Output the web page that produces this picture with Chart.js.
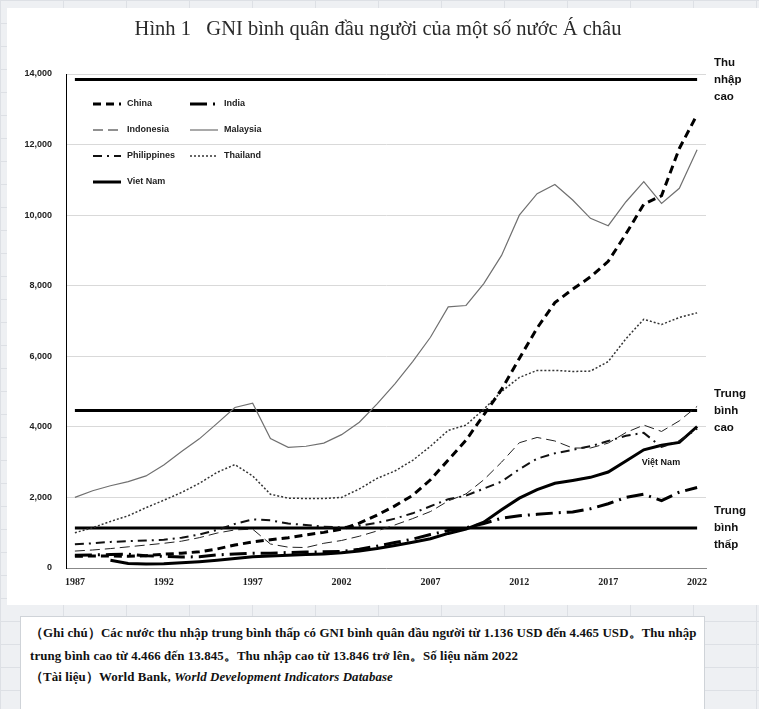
<!DOCTYPE html>
<html>
<head>
<meta charset="utf-8">
<script src="https://cdn.jsdelivr.net/npm/chart.js@4.4.1/dist/chart.umd.min.js"></script>
<style>
html, body { margin: 0; padding: 0; }
body {
    width: 759px; height: 709px; overflow: hidden; position: relative;
    background-color: #eef0f3;
    background-image: linear-gradient(#dde0e5 1px, transparent 1px), linear-gradient(90deg, #dde0e5 1px, transparent 1px);
    background-size: 63px 23px;
}
#card { position: absolute; left: 7px; top: 8px; width: 752px; height: 597px; background: #fff; }
#note {
    position: absolute; left: 20px; top: 616px; width: 685px; height: 100px;
    background: #fff; border: 1px solid #cfd3d8; box-sizing: border-box;
    padding: 5px 0 0 9px; color: #111; white-space: nowrap; letter-spacing: 0.1px;
    font-family: "Liberation Serif", "Times New Roman", serif; font-weight: bold; font-size: 12.9px; line-height: 23px;
}
#note p { margin: 0; }
</style>
</head>
<body>
<div id="card"><canvas id="gniChart" width="752" height="597"></canvas></div>
<div id="note">
    <p>（Ghi chú）Các nước thu nhập trung bình thấp có GNI bình quân đầu người từ 1.136 USD đến 4.465 USD。Thu nhập<br>trung bình cao từ 4.466 đến 13.845。Thu nhập cao từ 13.846 trở lên。Số liệu năm 2022</p>
    <p style="line-height:19px">（Tài liệu）World Bank, <i>World Development Indicators Database</i></p>
</div>
<script>
// years 1987 - 2022
const years = [];
for (let y = 1987; y <= 2022; y++) years.push(String(y));

// GNI per capita (USD)
const china = [330, 340, 340, 330, 350, 390, 420, 460, 540, 650, 740, 800, 860, 940, 1010, 1100, 1270, 1500, 1760, 2060,
    2500, 3060, 3620, 4340, 5060, 5940, 6800, 7520, 7900, 8250, 8690, 9470, 10310, 10550, 11890, 12850];
const india = [360, 370, 380, 390, 350, 330, 310, 320, 370, 400, 420, 420, 440, 450, 460, 470, 530, 620, 720, 820,
    950, 1060, 1140, 1260, 1410, 1480, 1520, 1560, 1590, 1680, 1820, 2000, 2090, 1910, 2150, 2280];
const indonesia = [480, 510, 550, 600, 650, 700, 760, 860, 990, 1080, 1100, 680, 590, 580, 700, 780, 900, 1050, 1220, 1400,
    1600, 1900, 2100, 2500, 3000, 3550, 3700, 3600, 3400, 3400, 3540, 3840, 4050, 3870, 4170, 4580];
const malaysia = [2000, 2190, 2330, 2450, 2610, 2920, 3300, 3660, 4100, 4550, 4670, 3670, 3420, 3450, 3540, 3780, 4130, 4650, 5220, 5850,
    6540, 7400, 7440, 8060, 8860, 10000, 10610, 10870, 10430, 9910, 9700, 10380, 10950, 10330, 10760, 11850];
const philippines = [670, 700, 740, 760, 780, 800, 860, 950, 1080, 1250, 1380, 1350, 1260, 1220, 1170, 1150, 1200, 1280, 1400, 1550,
    1750, 1950, 2050, 2250, 2450, 2800, 3100, 3250, 3350, 3450, 3600, 3750, 3830, 3430, 3600, 3950];
const thailand = [1000, 1140, 1320, 1480, 1710, 1920, 2140, 2400, 2710, 2930, 2610, 2090, 1980, 1970, 1970, 2000, 2240, 2540, 2750, 3050,
    3450, 3900, 4050, 4500, 5000, 5400, 5600, 5600, 5570, 5580, 5850, 6500, 7050, 6900, 7100, 7230];
const vietnam = [null, null, 220, 130, 110, 120, 150, 180, 220, 270, 320, 340, 360, 380, 400, 430, 480, 550, 640, 730,
    830, 980, 1100, 1300, 1650, 1980, 2220, 2400, 2480, 2570, 2720, 3030, 3350, 3480, 3560, 4010];

// income thresholds
const lowerMiddle = 1136;
const upperMiddle = 4465;
const highIncome = 13845;

const yTicks = [0, 2000, 4000, 6000, 8000, 10000, 12000, 14000];

const chartTitle = 'Hình 1   GNI bình quân đầu người của một số nước Á châu';
const labelFont = '"Liberation Sans Narrow", "Liberation Sans", Arial, sans-serif';
const serifFont = '"Liberation Serif", "Times New Roman", serif';

function series(label, data, color, width, dash) {
    return {
        label: label, data: data, borderColor: color, backgroundColor: color,
        borderWidth: width, borderDash: dash, pointRadius: 0, tension: 0,
        fill: false, spanGaps: false
    };
}

function flatLine(value) {
    return {
        label: '', data: years.map(() => value), borderColor: '#000', borderWidth: 3,
        pointRadius: 0, fill: false, isThreshold: true
    };
}

const datasets = [
    series('China', china, '#000', 3, [8, 5]),
    series('India', india, '#000', 3, [17, 6, 2, 6]),
    series('Indonesia', indonesia, '#222', 1, [10, 5]),
    series('Malaysia', malaysia, '#707070', 1.2, []),
    series('Philippines', philippines, '#111', 2, [9, 5, 2, 5]),
    series('Thailand', thailand, '#333', 1.5, [2, 2]),
    series('Viet Nam', vietnam, '#000', 3, []),
    flatLine(highIncome),
    flatLine(upperMiddle),
    flatLine(lowerMiddle)
];

// title, legend inside the plot, labels on the right
const extras = {
    id: 'extras',
    afterDatasetsDraw(chart) {
        const ctx = chart.ctx;
        const area = chart.chartArea;
        const x = chart.scales.x;
        const y = chart.scales.y;
        ctx.save();

        // title (centred on the card, not on the plot)
        ctx.fillStyle = '#2a2a2a';
        ctx.font = '20.5px ' + serifFont;
        ctx.textAlign = 'center';
        ctx.textBaseline = 'middle';
        ctx.fillText(chartTitle, 371, 22);

        // legend, two columns
        const cols = [area.left + 27, area.left + 124];
        const rows = [30, 56, 82, 108];
        ctx.textAlign = 'left';
        chart.data.datasets.forEach((ds, i) => {
            if (ds.isThreshold) return;
            const cx = cols[i % 2];
            const cy = area.top + rows[Math.floor(i / 2)];
            ctx.beginPath();
            ctx.strokeStyle = ds.borderColor;
            ctx.lineWidth = ds.borderWidth;
            ctx.setLineDash(ds.borderDash);
            ctx.moveTo(cx, cy);
            ctx.lineTo(cx + 28, cy);
            ctx.stroke();
            ctx.setLineDash([]);
            ctx.fillStyle = '#222';
            ctx.font = 'bold 9px ' + labelFont;
            ctx.fillText(ds.label, cx + 34, cy);
        });

        // threshold labels
        ctx.fillStyle = '#111';
        ctx.font = 'bold 11.5px ' + labelFont;
        const side = [
            [highIncome, ['Thu', 'nhập', 'cao']],
            [upperMiddle, ['Trung', 'bình', 'cao']],
            [lowerMiddle, ['Trung', 'bình', 'thấp']]
        ];
        side.forEach(([v, lines]) => {
            const mid = y.getPixelForValue(v);
            lines.forEach((t, k) => {
                ctx.fillText(t, area.right + 8, mid + (k - 1) * 17);
            });
        });

        // Viet Nam tag
        ctx.font = 'bold 9px ' + labelFont;
        ctx.fillText('Việt Nam', x.getPixelForValue(32) - 2, y.getPixelForValue(3000));
        ctx.restore();
    }
};

new Chart(document.getElementById('gniChart'), {
    type: 'line',
    data: { labels: years, datasets: datasets },
    plugins: [extras],
    options: {
        responsive: false,
        animation: false,
        layout: { padding: { left: 14, right: 53, top: 66, bottom: 9 } },
        plugins: {
            legend: { display: false },
            tooltip: { enabled: false },
            title: { display: false }
        },
        scales: {
            x: {
                offset: true,
                grid: { display: false, drawTicks: false },
                border: { color: '#888', width: 1 },
                ticks: {
                    autoSkip: false, maxRotation: 0, padding: 8, color: '#222',
                    font: { family: serifFont, size: 10, weight: 'bold' },
                    callback: function (val, i) { return (i % 5 === 0) ? years[i] : ''; }
                }
            },
            y: {
                min: 0, max: 14000,
                afterFit: (s) => { s.width = 45; },
                afterBuildTicks: (s) => { s.ticks = yTicks.map(v => ({ value: v })); },
                grid: { color: '#d9d9d9', drawTicks: false },
                border: { color: '#000', width: 1 },
                ticks: {
                    padding: 14, color: '#222',
                    font: { family: labelFont, size: 9, weight: 'bold' },
                    callback: (v) => v.toLocaleString('en-US')
                }
            }
        }
    }
});
</script>
</body>
</html>
